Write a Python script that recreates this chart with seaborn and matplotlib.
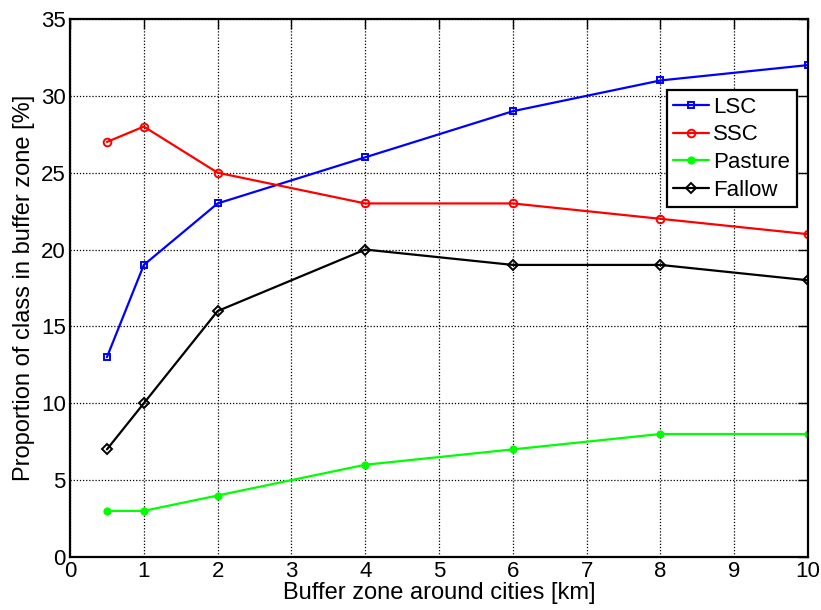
import matplotlib
matplotlib.use("Agg")
import matplotlib.pyplot as plt
import seaborn as sns
import pandas as pd

buffer_km = [0.5, 1, 2, 4, 6, 8, 10]
lsc = [13, 19, 23, 26, 29, 31, 32]
ssc = [27, 28, 25, 23, 23, 22, 21]
pasture = [3, 3, 4, 6, 7, 8, 8]
fallow = [7, 10, 16, 20, 19, 19, 18]
series_names = ["LSC", "SSC", "Pasture", "Fallow"]
xticks = list(range(0, 11))
yticks = list(range(0, 36, 5))

sns.set_theme(style="white")
plt.rcParams['font.family'] = ['Liberation Sans', 'DejaVu Sans']
plt.rcParams['text.color'] = 'black'
plt.rcParams['axes.labelcolor'] = 'black'

fig = plt.figure(figsize=(8.21, 6.10), dpi=100)
ax = fig.add_axes([0.0853, 0.0869, 0.8989, 0.8820])

styles = {
    "LSC": dict(color="#0000ff", marker="s", mfc="none", ms=5),
    "SSC": dict(color="#ff0000", marker="o", mfc="none", ms=5.5),
    "Pasture": dict(color="#00ff00", marker="o", mfc="#00ff00", ms=4.5),
    "Fallow": dict(color="#000000", marker="D", mfc="none", ms=5),
}
values = {"LSC": lsc, "SSC": ssc, "Pasture": pasture, "Fallow": fallow}
for name in series_names:
    df = pd.DataFrame({"x": buffer_km, "y": values[name]})
    st = styles[name]
    sns.lineplot(data=df, x="x", y="y", ax=ax, color=st["color"], marker=st["marker"],
                 markerfacecolor=st["mfc"], markeredgecolor=st["color"], markersize=st["ms"],
                 markeredgewidth=1.4, linewidth=1.6, label=name)

ax.set_xlim(0, 10)
ax.set_ylim(0, 35)
ax.set_xticks(xticks)
ax.set_yticks(yticks)
ax.tick_params(direction="in", length=7, width=1, top=True, right=True, labelsize=16,
               colors="black", labelcolor="black", pad=3)
ax.grid(True, color="black", linestyle=(0, (1, 1.5)), linewidth=0.9)
for s in ax.spines.values():
    s.set_visible(True)
    s.set_color("black")
    s.set_linewidth(1.6)
ax.set_xlabel("Buffer zone around cities [km]", fontsize=17, labelpad=0, color="black")
ax.set_ylabel("Proportion of class in buffer zone [%]", fontsize=17, labelpad=4, color="black")

leg = ax.legend(loc="upper right", bbox_to_anchor=(0.985, 0.868), fontsize=16, frameon=True,
                fancybox=False, edgecolor="black", borderpad=0.3, labelspacing=0.3,
                handlelength=1.6, handletextpad=0.2, borderaxespad=0)
leg.get_frame().set_linewidth(1.6)
leg.get_frame().set_alpha(1)
for t in leg.get_texts():
    t.set_color("black")

fig.savefig("out.png", dpi=100)
